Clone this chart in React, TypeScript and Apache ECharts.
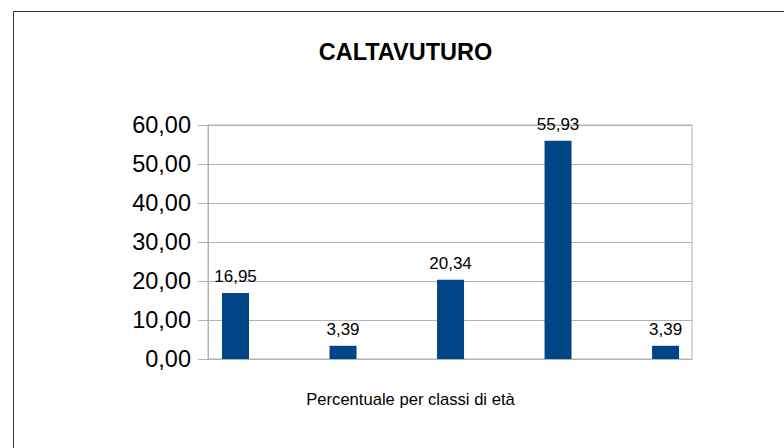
import React, { useEffect, useRef } from "react";
import * as echarts from "echarts";

const title = "CALTAVUTURO";
const axisTitle = "Percentuale per classi di età";
const positions = [0, 1, 2, 3, 4];
const values = [16.95, 3.39, 20.34, 55.93, 3.39];
const yTicks = [0, 10, 20, 30, 40, 50, 60];

const fmt = (v: number) => v.toFixed(2).replace(".", ",");

export default function App() {
  const ref = useRef<HTMLDivElement>(null);
  useEffect(() => {
    if (!ref.current) return;
    const chart = echarts.init(ref.current, undefined, { renderer: "svg" });
    const gray = "#b3b3b3";
    chart.setOption({
      animation: false,
      backgroundColor: "#ffffff",
      textStyle: { fontFamily: "Liberation Sans, Arial, sans-serif" },
      graphic: [
        {
          type: "rect",
          shape: { x: 13.5, y: 11.5, width: 900, height: 600 },
          style: { fill: "none", stroke: "#333333", lineWidth: 1 },
          silent: true,
        },
        {
          type: "text",
          x: 405.5,
          y: 52,
          style: {
            text: title,
            font: "bold 23.5px 'Liberation Sans', Arial, sans-serif",
            fill: "#000000",
            textAlign: "center",
            textVerticalAlign: "middle",
          },
        },
        {
          type: "text",
          x: 410.5,
          y: 399,
          style: {
            text: axisTitle,
            font: "16.6px 'Liberation Sans', Arial, sans-serif",
            fill: "#000000",
            textAlign: "center",
            textVerticalAlign: "middle",
          },
        },
      ],
      grid: {
        left: 208,
        right: 92,
        top: 125,
        bottom: 89,
        show: true,
        borderColor: gray,
        borderWidth: 1,
        backgroundColor: "transparent",
      },
      xAxis: {
        type: "value",
        min: -0.256,
        max: 4.246,
        axisLabel: { show: false },
        axisTick: { show: false },
        splitLine: { show: false },
        axisLine: { show: true, onZero: false, lineStyle: { color: gray } },
      },
      yAxis: {
        type: "value",
        min: yTicks[0],
        max: yTicks[yTicks.length - 1],
        interval: 10,
        axisLine: { show: true, onZero: false, lineStyle: { color: gray } },
        axisTick: { show: true, length: 10, lineStyle: { color: gray } },
        splitLine: { show: true, lineStyle: { color: gray } },
        axisLabel: {
          formatter: (v: number) => fmt(v),
          fontSize: 23.5,
          color: "#000000",
          margin: 17,
          padding: [5, 0, 0, 0],
        },
      },
      series: [
        {
          type: "bar",
          data: positions.map((p, i) => [p, values[i]]),
          barWidth: 27,
          itemStyle: { color: "#004586" },
          label: {
            show: true,
            position: "top",
            distance: 8,
            fontSize: 17,
            color: "#000000",
            formatter: (p: any) => fmt(p.value[1]),
          },
        },
      ],
    });
    return () => chart.dispose();
  }, []);
  return (
    <div
      ref={ref}
      style={{ position: "fixed", left: 0, top: 0, width: 784, height: 448 }}
    />
  );
}
